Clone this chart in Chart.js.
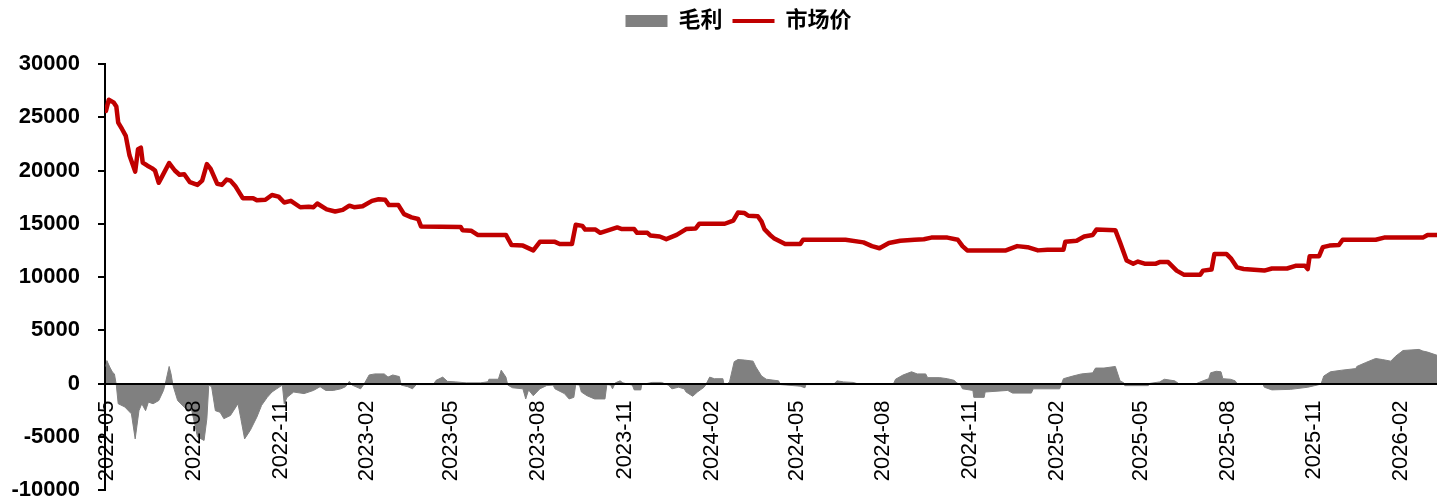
<!DOCTYPE html>
<html>
<head>
<meta charset="utf-8">
<script src="https://cdn.jsdelivr.net/npm/chart.js@4.4.1/dist/chart.umd.min.js"></script>
<style>
  html, body { margin: 0; padding: 0; background: #fff; }
  #wrap { width: 1437px; height: 499px; }
</style>
</head>
<body>
<div id="wrap"><canvas id="chart"></canvas></div>
<script>
// 市场价 (price line)
var priceDates = [
  '2022-04-30','2022-05-03','2022-05-08','2022-05-11','2022-05-13','2022-05-17','2022-05-21','2022-05-25',
  '2022-05-31','2022-06-03','2022-06-06','2022-06-08','2022-06-13','2022-06-18','2022-06-21','2022-06-25',
  '2022-06-28','2022-07-06','2022-07-12','2022-07-17','2022-07-22','2022-07-28','2022-08-05','2022-08-10',
  '2022-08-15','2022-08-19','2022-08-26','2022-08-31','2022-09-05','2022-09-09','2022-09-14','2022-09-22',
  '2022-10-03','2022-10-07','2022-10-16','2022-10-23','2022-10-30','2022-11-05','2022-11-12','2022-11-22',
  '2022-12-01','2022-12-06','2022-12-10','2022-12-20','2022-12-29','2023-01-06','2023-01-13','2023-01-18',
  '2023-01-27','2023-02-06','2023-02-13','2023-02-20','2023-02-24','2023-03-06','2023-03-12','2023-03-20',
  '2023-03-27','2023-03-30','2023-05-11','2023-05-13','2023-05-22','2023-05-29','2023-06-28','2023-07-04',
  '2023-07-16','2023-07-27','2023-08-03','2023-08-19','2023-08-24','2023-09-06','2023-09-10','2023-09-17',
  '2023-09-20','2023-10-01','2023-10-06','2023-10-24','2023-10-29','2023-11-11','2023-11-14','2023-11-25',
  '2023-11-28','2023-12-08','2023-12-15','2023-12-26','2024-01-05','2024-01-15','2024-01-19','2024-02-15',
  '2024-02-24','2024-02-29','2024-03-07','2024-03-11','2024-03-21','2024-03-25','2024-03-28','2024-04-03',
  '2024-04-07','2024-04-19','2024-05-05','2024-05-08','2024-06-22','2024-07-11','2024-07-20','2024-07-28',
  '2024-08-07','2024-08-19','2024-09-03','2024-09-13','2024-09-21','2024-10-08','2024-10-19','2024-10-24',
  '2024-10-29','2024-12-09','2024-12-21','2025-01-01','2025-01-12','2025-01-22','2025-02-08','2025-02-10',
  '2025-02-22','2025-03-02','2025-03-11','2025-03-15','2025-04-04','2025-04-09','2025-04-16','2025-04-23',
  '2025-04-28','2025-05-05','2025-05-17','2025-05-21','2025-05-30','2025-06-08','2025-06-16','2025-07-03',
  '2025-07-06','2025-07-15','2025-07-18','2025-07-31','2025-08-05','2025-08-11','2025-08-18','2025-09-09',
  '2025-09-17','2025-10-03','2025-10-12','2025-10-22','2025-10-25','2025-10-27','2025-11-06','2025-11-10',
  '2025-11-17','2025-11-27','2025-12-01','2026-01-05','2026-01-14','2026-02-24','2026-03-01','2026-03-11'
];
var priceValues = [
  25600,26650,26400,26000,24500,23900,23250,21400,
  19900,22000,22150,20750,20450,20200,20000,18850,
  19350,20700,20000,19600,19650,18900,18650,19050,
  20600,20150,18750,18650,19150,19050,18550,17400,
  17400,17200,17250,17700,17550,17000,17150,16550,
  16600,16550,16900,16350,16150,16300,16700,16550,
  16650,17150,17300,17250,16750,16750,15900,15600,
  15450,14750,14700,14400,14350,13950,13950,13000,
  12950,12500,13300,13300,13100,13100,14900,14800,
  14450,14450,14150,14650,14500,14500,14150,14150,
  13900,13800,13550,13950,14500,14550,15000,15000,
  15300,16050,16000,15750,15700,15200,14500,13950,
  13650,13100,13100,13500,13500,13250,12900,12700,
  13200,13400,13500,13550,13700,13700,13500,12900,
  12500,12500,12900,12800,12500,12550,12550,13300,
  13400,13800,13950,14450,14400,13250,11550,11250,
  11450,11250,11250,11400,11400,10600,10200,10200,
  10600,10700,12150,12150,11700,10900,10750,10600,
  10800,10800,11050,11050,10750,11950,11950,12800,
  12950,13000,13500,13500,13700,13700,13950,13950
];

// 毛利 (margin area)
var marginDates = [
  '2022-04-30','2022-05-01','2022-05-04','2022-05-07','2022-05-09','2022-05-11','2022-05-13','2022-05-20',
  '2022-05-27','2022-05-31','2022-06-04','2022-06-07','2022-06-11','2022-06-14','2022-06-19','2022-06-25',
  '2022-06-30','2022-07-02','2022-07-06','2022-07-08','2022-07-10','2022-07-15','2022-07-24','2022-07-30',
  '2022-08-05','2022-08-12','2022-08-15','2022-08-17','2022-08-20','2022-08-24','2022-08-29','2022-09-02',
  '2022-09-09','2022-09-17','2022-09-20','2022-09-24','2022-09-30','2022-10-07','2022-10-12','2022-10-18',
  '2022-10-23','2022-10-28','2022-11-03','2022-11-05','2022-11-08','2022-11-15','2022-11-26','2022-12-06',
  '2022-12-13','2022-12-19','2022-12-27','2023-01-04','2023-01-09','2023-01-13','2023-01-16','2023-01-25',
  '2023-01-29','2023-02-03','2023-02-09','2023-02-19','2023-02-23','2023-02-28','2023-03-07','2023-03-09',
  '2023-03-16','2023-03-21','2023-03-25','2023-04-12','2023-04-15','2023-04-22','2023-04-27','2023-05-06',
  '2023-05-17','2023-06-01','2023-06-09','2023-06-10','2023-06-20','2023-06-23','2023-06-28','2023-06-30',
  '2023-07-05','2023-07-16','2023-07-19','2023-07-22','2023-07-27','2023-08-03','2023-08-10','2023-08-17',
  '2023-08-19','2023-08-29','2023-09-03','2023-09-08','2023-09-10','2023-09-14','2023-09-16','2023-09-22',
  '2023-09-30','2023-10-11','2023-10-13','2023-10-17','2023-10-19','2023-10-22','2023-10-27','2023-10-30',
  '2023-11-09','2023-11-11','2023-11-18','2023-11-19','2023-11-30','2023-12-10','2023-12-17','2023-12-21',
  '2023-12-28','2024-01-03','2024-01-05','2024-01-12','2024-01-17','2024-01-24','2024-01-26','2024-01-30',
  '2024-02-04','2024-02-13','2024-02-14','2024-02-18','2024-02-20','2024-02-25','2024-02-29','2024-03-07',
  '2024-03-16','2024-03-19','2024-03-25','2024-03-30','2024-04-12','2024-04-14','2024-05-05','2024-05-10',
  '2024-05-11','2024-06-09','2024-06-13','2024-06-20','2024-06-30','2024-07-04','2024-08-12','2024-08-14',
  '2024-08-22','2024-08-31','2024-09-06','2024-09-15','2024-09-17','2024-09-30','2024-10-08','2024-10-15',
  '2024-10-18','2024-10-22','2024-10-24','2024-11-04','2024-11-05','2024-11-16','2024-11-17','2024-12-11',
  '2024-12-16','2025-01-05','2025-01-07','2025-02-04','2025-02-08','2025-02-18','2025-02-27','2025-03-11',
  '2025-03-14','2025-03-23','2025-04-04','2025-04-09','2025-04-13','2025-04-14','2025-05-09','2025-05-10',
  '2025-05-21','2025-05-26','2025-06-06','2025-06-10','2025-06-29','2025-07-06','2025-07-12','2025-07-14',
  '2025-07-20','2025-07-25','2025-07-27','2025-08-04','2025-08-09','2025-08-11','2025-09-07','2025-09-09',
  '2025-09-17','2025-10-07','2025-10-25','2025-11-08','2025-11-11','2025-11-18','2025-11-30','2025-12-15',
  '2025-12-16','2025-12-25','2026-01-05','2026-01-12','2026-01-21','2026-01-26','2026-02-03','2026-02-20',
  '2026-02-24','2026-03-01','2026-03-11'
];
var marginValues = [
  1600,2150,1550,1050,900,-150,-1900,-2200,
  -2850,-5200,-2550,-1900,-2550,-1750,-1900,-1600,
  -650,0,1600,900,-150,-1600,-2400,-2550,
  -5000,-5350,-3300,-150,-300,-2550,-2700,-3300,
  -3000,-1900,-3300,-5200,-4400,-3150,-2050,-1300,
  -800,-500,-150,-1900,-1300,-800,-950,-650,
  -300,-650,-650,-500,-300,200,-150,-500,
  0,800,900,900,600,800,650,-150,
  -300,-500,-100,-100,300,600,200,150,
  60,60,160,400,400,1250,600,-150,
  -400,-500,-1450,-600,-1150,-500,-200,-150,
  -500,-950,-1450,-1300,-100,-150,-800,-1150,
  -1450,-1450,-100,-150,-500,60,250,60,
  -150,-600,-600,-100,100,100,-150,-500,
  -350,-500,-800,-1200,-800,-350,-100,600,
  450,450,0,0,150,2050,2250,2200,
  2100,1550,700,400,250,-100,-250,-400,
  -100,-100,250,150,100,0,0,400,
  800,1100,900,900,550,550,450,300,
  60,-150,-500,-650,-1300,-1300,-800,-650,
  -900,-900,-500,-500,450,700,900,1000,
  1450,1450,1600,250,60,-200,-200,0,
  150,400,250,0,0,250,450,1000,
  1150,1100,450,400,250,0,0,-350,
  -600,-550,-350,-60,700,1100,1250,1400,
  1600,1950,2350,2250,2100,2550,3100,3200,
  3050,2950,2650
];

var tickLabels = ['2022-05','2022-08','2022-11','2023-02','2023-05','2023-08','2023-11','2024-02',
  '2024-05','2024-08','2024-11','2025-02','2025-05','2025-08','2025-11','2026-02'];

var RED = '#c00000';
var GREY = '#808080';

// days since 2022-05-01
function dayOf(s) {
  var p = s.split('-');
  return (Date.UTC(+p[0], +p[1] - 1, +(p[2] || 1)) - Date.UTC(2022, 4, 1)) / 86400000;
}

function points(dates, values) {
  return dates.map(function(d, i) { return {x: dayOf(d), y: values[i]}; });
}

Chart.defaults.font.family = '"Liberation Sans", Arial, "Noto Sans CJK SC", sans-serif';
Chart.defaults.color = '#000';

// more room under the legend, legend nudged right like the original
var legendSpace = {
  id: 'legendSpace',
  beforeInit: function(chart) {
    var fit = chart.legend.fit;
    chart.legend.fit = function() {
      fit.call(this);
      this.height += 22;
    };
  },
  afterLayout: function(chart) {
    chart.legend.left += 20;
    chart.legend.right += 20;
  }
};

var ctx = document.getElementById('chart').getContext('2d');
new Chart(ctx, {
  type: 'line',
  data: {
    datasets: [{
      label: '毛利',
      data: points(marginDates, marginValues),
      backgroundColor: GREY,
      borderColor: GREY,
      borderWidth: 1,
      fill: 'origin',
      pointRadius: 0,
      tension: 0,
      order: 2
    }, {
      label: '市场价',
      data: points(priceDates, priceValues),
      borderColor: RED,
      backgroundColor: RED,
      borderWidth: 4.5,
      borderJoinStyle: 'round',
      borderCapStyle: 'round',
      fill: false,
      pointRadius: 0,
      tension: 0,
      order: 1
    }]
  },
  options: {
    responsive: true,
    maintainAspectRatio: false,
    animation: false,
    layout: { padding: { left: 0, right: 0, top: 0, bottom: 9 } },
    plugins: {
      tooltip: { enabled: false },
      legend: {
        position: 'top',
        labels: {
          usePointStyle: true,
          pointStyleWidth: 42,
          boxHeight: 12,
          padding: 10,
          font: { size: 22, weight: 'bold' },
          generateLabels: function() {
            return [
              {text: '毛利', fillStyle: GREY, strokeStyle: GREY, lineWidth: 0, pointStyle: 'rect', datasetIndex: 0, fontColor: '#000'},
              {text: '市场价', fillStyle: RED, strokeStyle: RED, lineWidth: 4, pointStyle: 'line', datasetIndex: 1, fontColor: '#000'}
            ];
          }
        }
      }
    },
    scales: {
      x: {
        type: 'linear',
        position: { y: 0 },
        min: dayOf('2022-04-29'),
        max: dayOf('2026-03-11'),
        afterBuildTicks: function(axis) {
          axis.ticks = tickLabels.map(function(l) { return {value: dayOf(l)}; });
        },
        afterFit: function(axis) {
          axis.paddingLeft = 0;
          axis.paddingRight = 0;
        },
        grid: { display: false },
        border: { display: true, color: '#000', width: 2, z: 1 },
        ticks: {
          autoSkip: false,
          minRotation: 90,
          maxRotation: 90,
          padding: 9,
          z: 1,
          font: { size: 22 },
          callback: function(value, index) { return tickLabels[index]; }
        }
      },
      y: {
        min: -10000,
        max: 30000,
        afterFit: function(axis) {
          axis.width = 105;
          axis.paddingTop = 0;
          axis.paddingBottom = 0;
        },
        grid: { drawOnChartArea: false, drawTicks: true, tickLength: 7, color: '#000', lineWidth: 2 },
        border: { display: true, color: '#000', width: 2 },
        ticks: {
          stepSize: 5000,
          padding: 18,
          font: { size: 22, weight: 'bold' },
          callback: function(value) { return String(value); }
        }
      }
    }
  },
  plugins: [legendSpace]
});
</script>
</body>
</html>
